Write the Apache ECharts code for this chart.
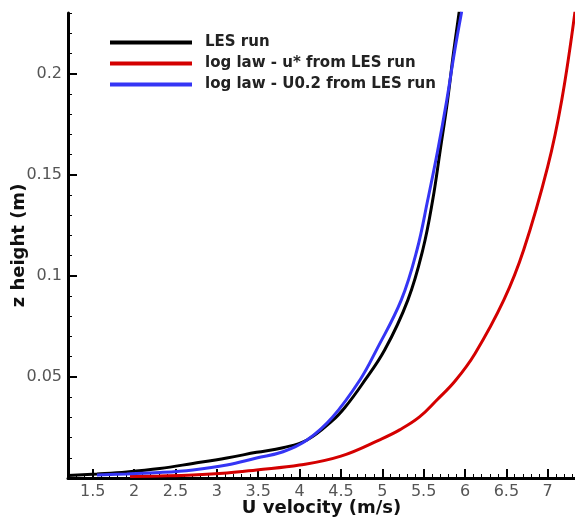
<!DOCTYPE html>
<html>
<head>
<meta charset="utf-8">
<script src="https://cdn.jsdelivr.net/npm/echarts@6/dist/echarts.min.js"></script>
<style>
  html, body { margin: 0; padding: 0; background: #fff; }
  #chart { width: 575px; height: 522px; }
</style>
</head>
<body>
<div id="chart"></div>
<script>
// LES run
const lesU = [1.20, 1.55, 1.91, 2.31, 2.71, 3.12, 3.48, 3.80, 4.09, 4.40, 4.55, 4.75, 5.03, 5.31, 5.49, 5.61, 5.70, 5.79, 5.86, 5.93]
const lesZ = [0.0012, 0.002, 0.003, 0.0047, 0.0072, 0.0099, 0.0127, 0.015, 0.0188, 0.0285, 0.035, 0.046, 0.0634, 0.0881, 0.1129, 0.1376, 0.162, 0.187, 0.21, 0.2307]
// log law - u* from LES run
const ustarU = [1.95, 2.31, 2.71, 3.12, 3.48, 4.00, 4.50, 5.00, 5.21, 5.45, 5.66, 5.88, 6.12, 6.47, 6.71, 7.00, 7.17, 7.33]
const ustarZ = [0.0007, 0.001, 0.0015, 0.0025, 0.004, 0.0064, 0.0108, 0.0195, 0.0238, 0.0302, 0.0386, 0.048, 0.0615, 0.0881, 0.1129, 0.154, 0.187, 0.2307]
// log law - U0.2 from LES run
const u02U = [1.55, 1.91, 2.31, 2.71, 3.12, 3.48, 3.80, 4.09, 4.40, 4.73, 4.93, 5.23, 5.42, 5.55, 5.67, 5.78, 5.87, 5.96]
const u02Z = [0.0015, 0.002, 0.0027, 0.004, 0.0064, 0.0099, 0.013, 0.0188, 0.0302, 0.0485, 0.0634, 0.0881, 0.1129, 0.1376, 0.162, 0.187, 0.21, 0.2307]

const xTicks = [1.5, 2, 2.5, 3, 3.5, 4, 4.5, 5, 5.5, 6, 6.5, 7]
const yTicks = [0.05, 0.1, 0.15, 0.2]

const names = ['LES run', 'log law - u* from LES run', 'log law - U0.2 from LES run']
const colors = ['#000000', '#d40000', '#3535f5']

const pairs = (xs, ys) => xs.map((x, i) => [x, ys[i]])

const chart = echarts.init(document.getElementById('chart'))

const labelFont = {
  fontFamily: 'DejaVu Sans',
  fontSize: 16,
  color: '#555'
}

const option = {
  backgroundColor: '#fff',
  animation: false,
  grid: { left: 68, right: 0, top: 13, bottom: 44, outerBoundsMode: 'none', containLabel: false },
  legend: {
    orient: 'vertical',
    left: 110,
    top: 35,
    padding: 0,
    icon: 'rect',
    itemWidth: 82,
    itemHeight: 4,
    itemGap: 6,
    data: names,
    textStyle: {
      fontFamily: 'DejaVu Sans',
      fontWeight: 'bold',
      fontSize: 15,
      lineHeight: 15,
      color: '#222',
      padding: [0, 0, 0, 8]
    }
  },
  xAxis: [
    {
      type: 'value',
      min: 1.2,
      max: 7.33,
      position: 'bottom',
      name: 'U velocity (m/s)',
      nameLocation: 'middle',
      nameGap: 21,
      nameMoveOverlap: false,
      nameTextStyle: { fontFamily: 'DejaVu Sans', fontWeight: 'bold', fontSize: 18, color: '#111' },
      axisLine: { onZero: false, lineStyle: { color: '#000', width: 3 } },
      axisTick: { customValues: xTicks, inside: true, length: 9, lineStyle: { color: '#000', width: 2 } },
      axisLabel: Object.assign({ customValues: xTicks, margin: 6 }, labelFont),
      splitLine: { show: false }
    },
    {
      type: 'value',
      min: 1.2,
      max: 7.33,
      interval: 0.1,
      position: 'bottom',
      axisLine: { show: false, onZero: false },
      axisTick: { inside: true, length: 4, lineStyle: { color: '#000', width: 1 } },
      axisLabel: { show: false },
      splitLine: { show: false }
    }
  ],
  yAxis: [
    {
      type: 'value',
      min: 0,
      max: 0.23,
      position: 'left',
      name: 'z height (m)',
      nameLocation: 'middle',
      nameGap: 40,
      nameRotate: 90,
      nameMoveOverlap: false,
      nameTextStyle: { fontFamily: 'DejaVu Sans', fontWeight: 'bold', fontSize: 18, color: '#111' },
      axisLine: { onZero: false, lineStyle: { color: '#000', width: 3 } },
      axisTick: { customValues: yTicks, inside: true, length: 9, lineStyle: { color: '#000', width: 2 } },
      axisLabel: Object.assign({ customValues: yTicks, margin: 6 }, labelFont),
      splitLine: { show: false }
    },
    {
      type: 'value',
      min: 0,
      max: 0.23,
      interval: 0.01,
      position: 'left',
      axisLine: { show: false, onZero: false },
      axisTick: { inside: true, length: 4, lineStyle: { color: '#000', width: 1 } },
      axisLabel: { show: false },
      splitLine: { show: false }
    }
  ],
  series: [
    [lesU, lesZ],
    [ustarU, ustarZ],
    [u02U, u02Z]
  ].map((d, i) => ({
    name: names[i],
    type: 'line',
    xAxisIndex: 0,
    yAxisIndex: 0,
    symbol: 'none',
    smooth: 0.4,
    color: colors[i],
    lineStyle: { color: colors[i], width: 3 },
    data: pairs(d[0], d[1])
  }))
}

option && chart.setOption(option)
</script>
</body>
</html>
